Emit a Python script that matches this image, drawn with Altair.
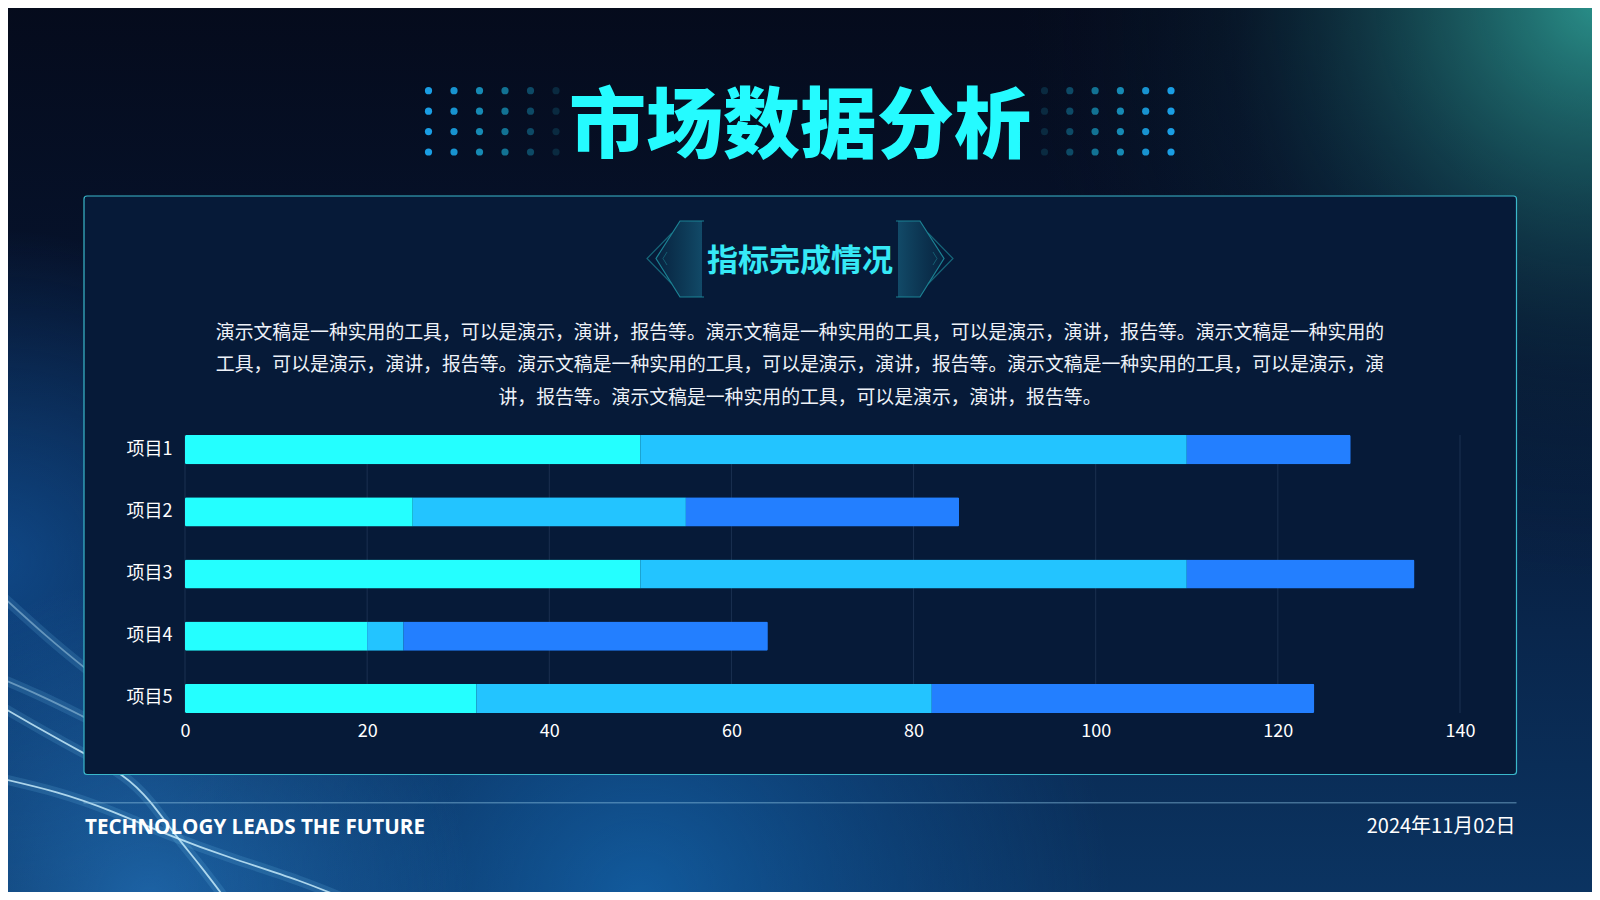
import altair as alt
import pandas as pd

# ---------------- data ----------------
categories = ["项目1", "项目2", "项目3", "项目4", "项目5"]
series_names = ["系列1", "系列2", "系列3"]
series1 = [50, 25, 50, 20, 32]
series2 = [60, 30, 60, 4, 50]
series3 = [18, 30, 25, 40, 42]
series_colors = ["#24FFFF", "#23C4FF", "#237FFF"]
x_ticks = [0, 20, 40, 60, 80, 100, 120, 140]

title_text = "市场数据分析"
subtitle_text = "指标完成情况"
paragraph_lines = [
    "演示文稿是一种实用的工具，可以是演示，演讲，报告等。演示文稿是一种实用的工具，可以是演示，演讲，报告等。演示文稿是一种实用的",
    "工具，可以是演示，演讲，报告等。演示文稿是一种实用的工具，可以是演示，演讲，报告等。演示文稿是一种实用的工具，可以是演示，演",
    "讲，报告等。演示文稿是一种实用的工具，可以是演示，演讲，报告等。",
]
footer_left = "TECHNOLOGY LEADS THE FUTURE"
footer_right = "2024年11月02日"

# ---------------- layout helpers ----------------
W, H = 1275, 278          # plot area
OX, OY = 185, 435         # plot origin in page pixels
CJK = "Noto Sans CJK SC"
one = pd.DataFrame({"a": [0]})


def rect(x1, y1, x2, y2, **kw):
    return alt.Chart(one).mark_rect(**kw).encode(
        x=alt.value(x1 - OX), x2=alt.value(x2 - OX),
        y=alt.value(y1 - OY), y2=alt.value(y2 - OY))


def text(t, X, Y, size, color, weight="normal", align="center", font=CJK):
    return alt.Chart(one).mark_text(
        text=t, fontSize=size, color=color, fontWeight=weight, align=align,
        font=font, baseline="alphabetic").encode(
        x=alt.value(X - OX), y=alt.value(Y - OY))


def stops(pairs):
    return [alt.GradientStop(offset=o, color=c) for o, c in pairs]


def glow(cx, cy, r, pairs):
    g = alt.RadialGradient(gradient="radial", stops=stops(pairs),
                           x1=0.5, y1=0.5, r1=0, x2=0.5, y2=0.5, r2=0.5)
    return rect(cx - r, cy - r, cx + r, cy + r, fill=g)


def path(points, **kw):
    d = pd.DataFrame([{"px": x - OX, "py": y - OY, "o": i}
                      for i, (x, y) in enumerate(points)])
    return alt.Chart(d).mark_line(**kw).encode(
        x=alt.X("px:Q", scale=None, axis=None),
        y=alt.Y("py:Q", scale=None, axis=None),
        order=alt.Order("o:Q"))


def area(xs, ys, y2s, **kw):
    d = pd.DataFrame({"px": [x - OX for x in xs], "py": [y - OY for y in ys],
                      "py2": [y - OY for y in y2s]})
    return alt.Chart(d).mark_area(**kw).encode(
        x=alt.X("px:Q", scale=None, axis=None),
        y=alt.Y("py:Q", scale=None, axis=None, stack=None),
        y2="py2:Q")


layers = []

# ---------------- background ----------------
base = alt.LinearGradient(gradient="linear", x1=0, x2=0, y1=0, y2=1, stops=stops([
    (0, "#050B1C"), (0.35, "#06132D"), (0.7, "#09264C"), (1, "#0B3462")]))
layers.append(rect(0, 0, 1600, 900, fill=base))
layers.append(glow(1600, 0, 580, [
    (0, "rgba(44,152,144,0.95)"), (0.3, "rgba(32,116,118,0.6)"),
    (0.65, "rgba(16,62,82,0.2)"), (1, "rgba(10,30,50,0)")]))
layers.append(glow(0, 560, 330, [
    (0, "rgba(20,95,175,0.6)"), (1, "rgba(20,95,175,0)")]))
layers.append(glow(640, 900, 470, [
    (0, "rgba(22,112,190,0.65)"), (0.6, "rgba(18,90,160,0.3)"), (1, "rgba(18,90,160,0)")]))
layers.append(glow(150, 900, 320, [
    (0, "rgba(40,130,210,0.6)"), (1, "rgba(40,130,210,0)")]))

# light streaks bottom-left
streaks = [
    [(-10, 700), (45, 732), (85, 754), (125, 775), (150, 800), (175, 835), (200, 865), (230, 905)],
    [(-10, 776), (60, 792), (110, 810), (170, 836), (230, 858), (300, 880), (360, 905)],
    [(-10, 674), (40, 695), (90, 720)],
    [(-10, 585), (50, 640), (90, 672)],
]
for i, s in enumerate(streaks):
    layers.append(path(s, interpolate="basis", color="#7FD4FF", strokeWidth=10, opacity=0.14))
    layers.append(path(s, interpolate="basis", color="#CFF2FF", strokeWidth=1.8,
                       opacity=0.8 if i < 2 else 0.4))

# ---------------- panel ----------------
layers.append(rect(84, 196, 1516.5, 774.5, fill="#061A38", stroke="#3AB8CB",
                   strokeWidth=1.2, cornerRadius=3))

# ---------------- title dots ----------------
dot_rows = [90.7, 111.2, 131.6, 152.0]
left_cols = [428.5, 454.0, 479.5, 505.0, 530.5, 556.0]
right_cols = [1171.0, 1145.7, 1120.4, 1095.1, 1069.8, 1044.5]
dot_colors = ["#1A9EE4", "#1893D0", "#168AB4", "#127293", "#0D4A66", "#0A2A40"]
dots = []
for cols in (left_cols, right_cols):
    for ci, cx in enumerate(cols):
        for ry in dot_rows:
            dots.append({"px": cx - OX, "py": ry - OY, "c": dot_colors[ci]})
layers.append(alt.Chart(pd.DataFrame(dots)).mark_circle(size=52, opacity=1).encode(
    x=alt.X("px:Q", scale=None, axis=None), y=alt.Y("py:Q", scale=None, axis=None),
    color=alt.Color("c:N", scale=None, legend=None)))

# ---------------- title ----------------
layers.append(text(title_text, 800, 152, 77, "#25FBFF", weight=900))

# ---------------- subtitle frame ----------------
for side in (1, -1):
    def mx(x):
        return x if side == 1 else 1600 - x
    grad = alt.LinearGradient(
        gradient="linear", x1=0 if side == 1 else 1, x2=1 if side == 1 else 0, y1=0, y2=0,
        stops=stops([(0, "rgba(24,120,140,0.10)"), (1, "rgba(34,140,170,0.42)")]))
    xs = [mx(656), mx(680), mx(702)]
    layers.append(area(xs, [258.5, 221, 221], [258.5, 297, 297], fill=grad))
    layers.append(path([(mx(704), 221), (mx(680), 221), (mx(656), 258.5), (mx(680), 297), (mx(704), 297)],
                       color="#1E8C9C", strokeWidth=1.2, opacity=0.9))
    layers.append(path([(mx(672), 233), (mx(647), 258.5), (mx(672), 284)],
                       color="#1B7E8E", strokeWidth=1.2, opacity=0.75))
    layers.append(path([(mx(667), 252), (mx(663), 258.5), (mx(667), 265)],
                       color="#1B7E8E", strokeWidth=1, opacity=0.6))

layers.append(text(subtitle_text, 800, 270.8, 31, "#36E9F6", weight="bold"))

# ---------------- paragraph ----------------
for i, line in enumerate(paragraph_lines):
    layers.append(text(line, 800, 338.7 + 32.5 * i, 18.85, "#EEF2F8"))

# ---------------- chart ----------------
x_scale = alt.Scale(domain=[0, 140], nice=False)
x_axis = alt.Axis(values=x_ticks, title=None, grid=False, domain=False, ticks=False,
                  labelFlush=False, labelPadding=9, labelFontSize=18,
                  labelColor="#FFFFFF", labelFont=CJK, zindex=1)

grid_df = pd.DataFrame({"刻度": x_ticks})
layers.append(alt.Chart(grid_df).mark_rule(color="#1B3050", strokeWidth=1).encode(
    x=alt.X("刻度:Q", scale=x_scale, axis=x_axis),
    y=alt.value(0), y2=alt.value(H)))

rows = []
for i, cat in enumerate(categories):
    for k, vals in enumerate([series1, series2, series3]):
        rows.append({"项目": cat, "系列": series_names[k], "数值": vals[i], "顺序": k})
bar_df = pd.DataFrame(rows)

bars = alt.Chart(bar_df).mark_bar(cornerRadius=1.5).encode(
    x=alt.X("数值:Q", stack="zero", scale=x_scale, axis=x_axis),
    y=alt.Y("项目:N", sort=categories, scale=alt.Scale(paddingInner=0.53, paddingOuter=0),
            axis=alt.Axis(title=None, domain=False, ticks=False, grid=False, labelPadding=13,
                          labelFontSize=18, labelColor="#FFFFFF", labelFont=CJK, zindex=1)),
    color=alt.Color("系列:N", scale=alt.Scale(domain=series_names, range=series_colors),
                    legend=None),
    order=alt.Order("顺序:Q"),
)
layers.append(bars)

# ---------------- footer ----------------
layers.append(path([(83.5, 802.7), (1516.5, 802.7)], color="#8CC0E0", strokeWidth=1.5, opacity=0.45))
layers.append(text(footer_left, 85, 834, 20.6, "#FFFFFF", weight="bold", align="left", font="Open Sans"))
layers.append(text(footer_right, 1515.5, 833.3, 20, "#FFFFFF", align="right"))

chart = alt.layer(*layers).properties(
    width=W, height=H,
    padding={"left": OX - 8, "top": OY - 8, "right": 1592 - OX - W, "bottom": 892 - OY - H},
    autosize=alt.AutoSizeParams(type="none"),
    background="#061530",
).configure_view(stroke=None)

chart.save("out.html", embed_options={"renderer": "svg", "actions": False})
